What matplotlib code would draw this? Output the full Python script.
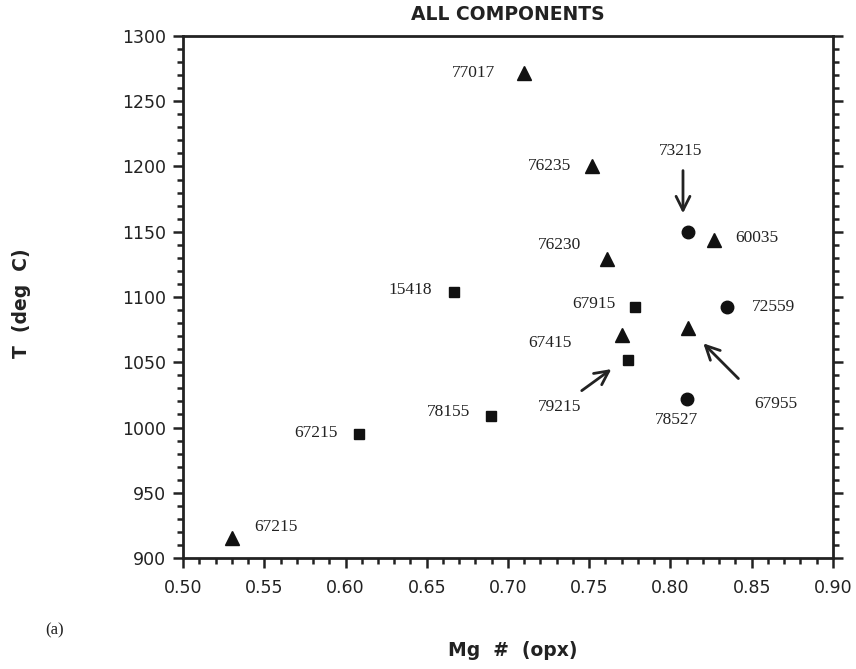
import matplotlib.pyplot as plt
from matplotlib.ticker import MultipleLocator

# triangles
tri_x = [0.710, 0.752, 0.827, 0.761, 0.770, 0.811, 0.530]
tri_y = [1272, 1200, 1144, 1129, 1071, 1076, 915]
# squares
sq_x = [0.667, 0.778, 0.774, 0.6895, 0.608]
sq_y = [1104, 1092, 1052, 1009, 995]
# circles
ci_x = [0.811, 0.835, 0.810]
ci_y = [1150, 1092, 1022]

# labels: text, x, y, ha
labels = ['77017', '76235', '73215', '60035', '76230', '15418', '67915',
          '72559', '67415', '67955', '79215', '78527', '78155', '67215', '67215']
lab_x = [0.692, 0.739, 0.806, 0.840, 0.732, 0.653, 0.766,
         0.850, 0.739, 0.865, 0.732, 0.804, 0.677, 0.595, 0.544]
lab_y = [1272, 1200, 1212, 1145, 1140, 1105, 1095,
         1092, 1065, 1018, 1016, 1006, 1012, 996, 924]
lab_ha = ['right', 'right', 'center', 'left', 'center', 'right', 'right',
          'left', 'right', 'center', 'center', 'center', 'right', 'right', 'left']

# arrows: (tail, head)
arrows = [((0.8077, 1199), (0.8077, 1162)),
          ((0.744, 1027), (0.765, 1046)),
          ((0.843, 1036), (0.819, 1066))]

fig = plt.figure(figsize=(8.56, 6.69), dpi=100)
ax = fig.add_axes([0.2138, 0.1659, 0.7593, 0.7803])

ax.plot(tri_x, tri_y, '^', color='#111111', markersize=10, linestyle='none')
ax.plot(sq_x, sq_y, 's', color='#111111', markersize=6.5, linestyle='none')
ax.plot(ci_x, ci_y, 'o', color='#111111', markersize=9, linestyle='none')

for t, x, y, ha in zip(labels, lab_x, lab_y, lab_ha):
    ax.text(x, y, t, ha=ha, va='center', fontsize=12.5,
            family='Liberation Serif', color='#222222')

for tail, head in arrows:
    ax.annotate('', xy=head, xytext=tail,
                arrowprops=dict(arrowstyle='->', lw=2, color='#222222',
                                mutation_scale=25))

ax.set_xlim(0.5, 0.9)
ax.set_ylim(900, 1300)
ax.xaxis.set_major_locator(MultipleLocator(0.05))
ax.xaxis.set_minor_locator(MultipleLocator(0.01))
ax.yaxis.set_major_locator(MultipleLocator(50))
ax.yaxis.set_minor_locator(MultipleLocator(10))
ax.set_xticklabels(['%.2f' % v for v in ax.get_xticks()])

ax.tick_params(which='both', direction='out', width=1.8, color='#222222',
               right=True, top=False, labelsize=12.5, labelcolor='#222222')
ax.tick_params(which='major', length=7)
ax.tick_params(which='minor', length=4.5)
ax.tick_params(axis='x', pad=8)
ax.tick_params(axis='y', pad=5)
for lab in ax.get_xticklabels() + ax.get_yticklabels():
    lab.set_family('DejaVu Sans')
for s in ax.spines.values():
    s.set_linewidth(2)
    s.set_color('#222222')

fig.text(0.593, 0.978, 'ALL COMPONENTS', ha='center', va='center',
         fontsize=13.5, fontweight='bold', family='DejaVu Sans', color='#222222')
fig.text(0.599, 0.027, 'Mg  #  (opx)', ha='center', va='center',
         fontsize=13.5, fontweight='bold', family='DejaVu Sans', color='#222222')
fig.text(0.025, 0.547, 'T  (deg  C)', ha='center', va='center', rotation=90,
         fontsize=13.5, fontweight='bold', family='DejaVu Sans', color='#222222')
fig.text(0.064, 0.057, '(a)', ha='center', va='center',
         fontsize=12, family='Liberation Serif', color='#222222')

fig.savefig('out.png', dpi=100)
